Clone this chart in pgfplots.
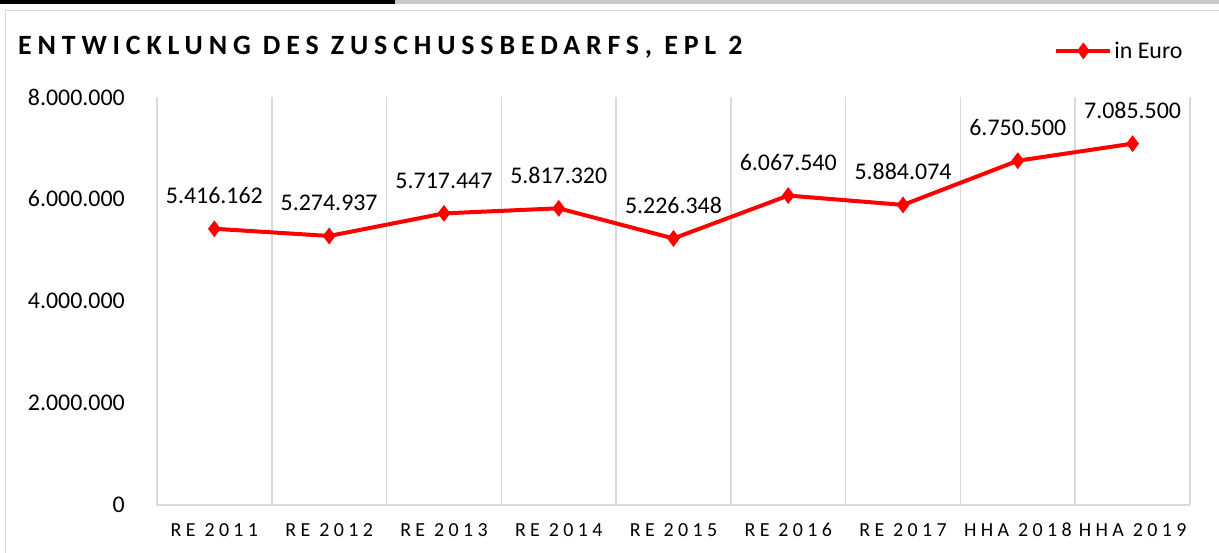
\documentclass[border=0pt]{standalone}
\usepackage{pgfplots}
\pgfplotsset{compat=1.18}
\usepackage{fontspec}
\setmainfont{Carlito}
\newfontfamily\spacedfont[LetterSpace=22]{Carlito}
\newfontfamily\titlefont[LetterSpace=21]{Carlito}
\definecolor{gridc}{HTML}{D9D9D9}
\definecolor{lred}{HTML}{FF0000}
\definecolor{topgray}{HTML}{C8C8C8}
\begin{document}
\begin{tikzpicture}[x=1bp,y=1bp]
\useasboundingbox (0,0) rectangle (1219,553);
\fill[black] (0,549) rectangle (395,553);
\fill[topgray] (395,549) rectangle (1219,553);
\draw[gridc, line width=1.5bp] (5.5,0) -- (5.5,542.5) -- (1219,542.5);
\node[anchor=base west, inner sep=0, font=\titlefont\bfseries\fontsize{28}{32}\selectfont] at (18,498) {ENTWICKLUNG DES ZUSCHUSSBEDARFS, EPL 2};
\begin{axis}[
  at={(157bp,48bp)}, anchor=south west,
  scale only axis, width=1033bp, height=408bp,
  xmin=-0.5, xmax=8.5, ymin=0, ymax=8000000,
  xtick={0,...,8},
  xticklabels={RE 2011,RE 2012,RE 2013,RE 2014,RE 2015,RE 2016,RE 2017,HHA 2018,HHA 2019},
  minor xtick={-0.5,0.5,...,8.5},
  xminorgrids,
  minor grid style={gridc, line width=1.5bp},
  ytick={0,2000000,4000000,6000000,8000000},
  scaled y ticks=false,
  /pgf/number format/fixed,
  /pgf/number format/1000 sep={.},
  /pgf/number format/assume math mode=true,
  major tick length=0, minor tick length=0,
  axis x line*=bottom, axis y line*=left,
  x axis line style={-, draw=gridc, line width=1.5bp},
  y axis line style={draw=none},
  xticklabel style={font=\spacedfont\fontsize{20}{23}\selectfont, anchor=base, inner sep=0, yshift=-32bp},
  yticklabel style={font=\fontsize{24}{28}\selectfont, anchor=east, inner sep=0, xshift=-32bp},
  clip=false,
  legend style={at={(0.995,1.113)}, anchor=east, draw=none, fill=none, font=\fontsize{24}{28}\selectfont, inner sep=0},
  legend image code/.code={\draw[mark repeat=2,mark phase=2,#1] plot coordinates {(0bp,0bp) (27bp,0bp) (54bp,0bp)};},
]
\addplot[lred, line width=4bp, mark=diamond*, mark size=8bp, mark options={solid, fill=lred, draw=lred, line width=0.5bp},
  point meta=explicit symbolic,
  nodes near coords,
  nodes near coords style={font=\fontsize{24}{28}\selectfont, text=black, anchor=base, inner sep=0, yshift=25bp},
] coordinates {
  (0,5416162) [5.416.162]
  (1,5274937) [5.274.937]
  (2,5717447) [5.717.447]
  (3,5817320) [5.817.320]
  (4,5226348) [5.226.348]
  (5,6067540) [6.067.540]
  (6,5884074) [5.884.074]
  (7,6750500) [6.750.500]
  (8,7085500) [7.085.500]
};
\addlegendentry{in Euro}
\end{axis}
\end{tikzpicture}
\end{document}
